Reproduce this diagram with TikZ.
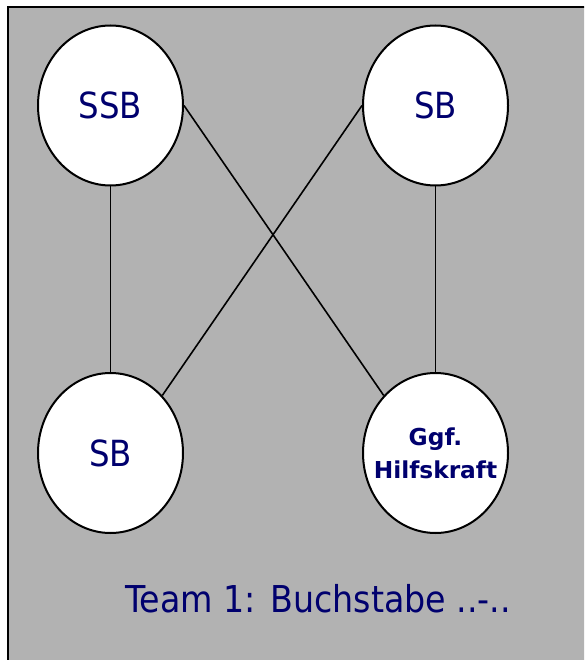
\documentclass[tikz,border=0pt]{standalone}
\usepackage{fontspec}
\setmainfont{DejaVu Sans}
\newfontfamily\narrowsans{DejaVu Sans}[FakeStretch=0.9]
\usetikzlibrary{
  calc,shapes.geometric,positioning
}
\definecolor{teamblue}{RGB}{0,0,110}
\definecolor{teamgray}{RGB}{178,178,178}
\tikzset{
  member/.style={ellipse,draw=black,line width=2pt,fill=white,
    minimum width=145pt,minimum height=160pt,inner sep=0pt,
    text=teamblue,font=\narrowsans\fontsize{36}{40}\selectfont},
  helpertext/.style={align=center,text=teamblue,inner sep=0pt,
    font=\bfseries\fontsize{23.3}{33}\selectfont},
  link/.style={black,line width=1.6pt}
}

\begin{document}
\begin{tikzpicture}[x=1pt,y=-1pt]

\clip (0,0) rectangle (584,660);
\draw[black,line width=2pt,fill=teamgray] (8,7) rectangle (600,680);

\node[member] (ssb) at (110.5,105.5) {SSB};
\node[member] (sbr) at (435.5,105.5) {SB};
\node[member] (sbl) at (110.5,453) {SB};
\node[member,label={[helpertext]center:Ggf.\\Hilfskraft}] (hk) at (435.5,453) {};

\draw[link] (ssb.south) -- (sbl.north);
\draw[link] (sbr.south) -- (hk.north);
\draw[link] (ssb.east) -- (hk.132);
\draw[link] (sbr.west) -- (sbl.48);

\node[anchor=base west,text=teamblue,inner sep=0pt,
  font=\narrowsans\fontsize{37}{40}\selectfont] (title) at (125,612)
  {Team 1: Buchstabe ..-..};
\end{tikzpicture}
\end{document}
